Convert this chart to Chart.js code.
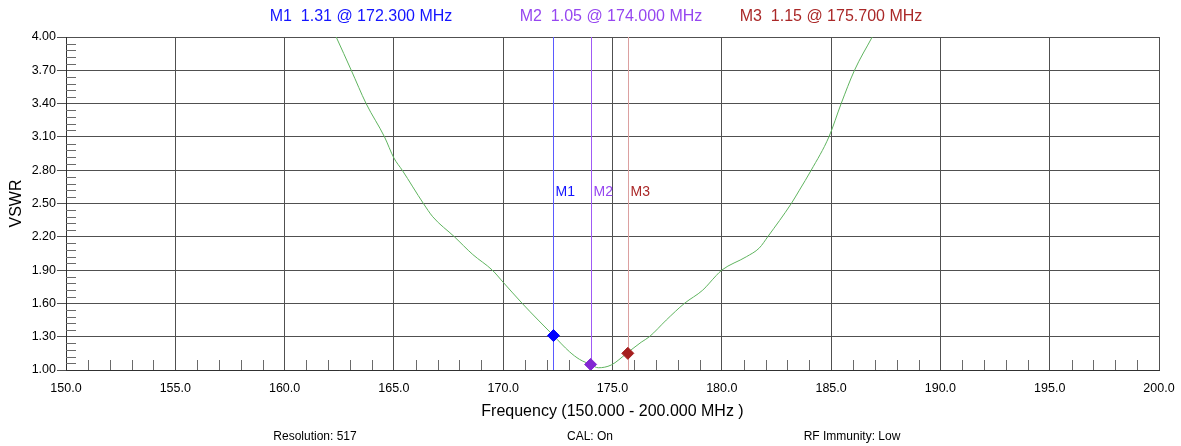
<!DOCTYPE html>
<html>
<head>
<meta charset="utf-8">
<script src="https://cdn.jsdelivr.net/npm/chart.js@4.4.0/dist/chart.umd.min.js"></script>
<style>
  html, body { margin: 0; padding: 0; background: #fff; }
  #wrap { width: 1181px; height: 446px; }
</style>
</head>
<body>
<div id="wrap"><canvas id="vswr" width="1181" height="446"></canvas></div>
<script>
// sweep (MHz, VSWR)
const freqs = [162.0, 162.36, 163.05, 163.73, 164.57, 165.0, 165.38, 166.35, 166.78, 167.77, 168.61, 169.5, 170.0,
  170.87, 171.6, 172.3, 173.03, 173.49, 174.0, 174.35, 174.94, 175.65, 176.31, 176.69, 177.46, 178.29, 179.13,
  179.74, 180.0, 181.12, 181.72, 182.1, 183.18, 183.55, 184.09, 184.9, 185.46, 186.07, 186.88, 187.2];
const vswr = [4.15, 4.0, 3.7, 3.4, 3.1, 2.91, 2.8, 2.5, 2.38, 2.2, 2.04, 1.9, 1.79,
  1.6, 1.45, 1.31, 1.165, 1.096, 1.05, 1.02, 1.045, 1.15, 1.25, 1.3, 1.45, 1.6, 1.72,
  1.85, 1.9, 2.02, 2.1, 2.2, 2.5, 2.62, 2.8, 3.1, 3.4, 3.7, 4.0, 4.12];

const markerNames = ["M1", "M2", "M3"];
const markerFreqs = [172.3, 174.0, 175.7];
const markerValues = [1.31, 1.05, 1.15];
const markerText = ["rgb(20,20,255)", "rgb(150,70,240)", "rgb(170,40,40)"];
const markerLine = ["rgb(90,90,255)", "rgb(160,90,245)", "rgb(220,160,160)"];
const markerDot = ["rgb(0,0,255)", "rgb(130,40,210)", "rgb(165,30,30)"];

const xTitle = "Frequency (150.000 - 200.000 MHz )";
const yTitle = "VSWR";
const statusLabels = ["Resolution: 517", "CAL: On", "RF Immunity: Low"];
const statusCenters = [315, 590, 852];

const FONT = "'Liberation Sans', Arial, sans-serif";

function fmt(v, d) {
  return Number(v).toFixed(d);
}

const overlay = {
  id: "overlay",
  beforeDatasetsDraw(chart) {
    const { ctx, chartArea: a, scales: { x, y } } = chart;
    ctx.save();
    ctx.lineWidth = 1;
    ctx.strokeStyle = "#6a6a6a";
    ctx.beginPath();
    for (let f = 151; f < 200; f++) {
      if (f % 5 === 0) continue;
      const px = Math.round(x.getPixelForValue(f)) + 0.5;
      ctx.moveTo(px, a.bottom);
      ctx.lineTo(px, a.bottom - 10);
    }
    for (let i = 1; i < 50; i++) {
      if (i % 5 === 0) continue;
      const py = Math.round(y.getPixelForValue(1 + i * 0.06)) + 0.5;
      ctx.moveTo(a.left, py);
      ctx.lineTo(a.left + 10, py);
    }
    ctx.stroke();

    // marker cursors
    markerFreqs.forEach((f, i) => {
      const px = Math.round(x.getPixelForValue(f)) + 0.5;
      ctx.strokeStyle = markerLine[i];
      ctx.beginPath();
      ctx.moveTo(px, a.top);
      ctx.lineTo(px, a.bottom);
      ctx.stroke();
      ctx.fillStyle = markerText[i];
      ctx.font = "14px " + FONT;
      ctx.textAlign = "left";
      ctx.textBaseline = "middle";
      ctx.fillText(markerNames[i], px + 2, y.getPixelForValue(2.6));
    });
    ctx.restore();
  },
  afterDraw(chart) {
    const { ctx, chartArea: a } = chart;
    ctx.save();
    ctx.textBaseline = "middle";
    ctx.textAlign = "center";
    ctx.font = "16px " + FONT;
    const centers = [361, 611, 831];
    markerNames.forEach((m, i) => {
      ctx.fillStyle = markerText[i];
      ctx.fillText(m + "  " + fmt(markerValues[i], 2) + " @ " + fmt(markerFreqs[i], 3) + " MHz", centers[i], 17);
    });

    ctx.fillStyle = "#000";
    ctx.fillText(xTitle, (a.left + a.right) / 2, 412);
    ctx.save();
    ctx.translate(17, (a.top + a.bottom) / 2);
    ctx.rotate(-Math.PI / 2);
    ctx.fillText(yTitle, 0, 0);
    ctx.restore();

    ctx.font = "12px " + FONT;
    statusLabels.forEach((s, i) => ctx.fillText(s, statusCenters[i], 437));
    ctx.restore();
  }
};

new Chart(document.getElementById("vswr"), {
  type: "scatter",
  data: {
    datasets: [
      {
        data: freqs.map((f, i) => ({ x: f, y: vswr[i] })),
        showLine: true,
        borderColor: "rgb(95,180,95)",
        borderWidth: 1,
        pointRadius: 0,
        cubicInterpolationMode: "monotone",
        order: 2,
      },
      {
        data: markerFreqs.map((f, i) => ({ x: f, y: markerValues[i] })),
        showLine: false,
        pointStyle: "rectRot",
        pointRadius: 6,
        pointBackgroundColor: markerDot,
        pointBorderColor: markerDot,
        order: 1,
      },
    ],
  },
  plugins: [overlay],
  options: {
    responsive: false,
    animation: false,
    devicePixelRatio: 1,
    layout: { padding: { top: 37, right: 22, left: 0, bottom: 0 } },
    plugins: { legend: { display: false }, tooltip: { enabled: false } },
    scales: {
      x: {
        type: "linear",
        min: 150,
        max: 200,
        afterFit: (s) => { s.height = 76; s.paddingRight = 0; s.paddingLeft = 0; },
        ticks: {
          stepSize: 5,
          color: "#000",
          font: { family: FONT, size: 12.5 },
          padding: 11,
          maxRotation: 0,
          callback: (v) => fmt(v, 1),
        },
        grid: { color: "#505050", lineWidth: 1, drawTicks: false },
        border: { color: "#303030" },
      },
      y: {
        min: 1,
        max: 4,
        afterFit: (s) => { s.width = 66; s.paddingTop = 0; s.paddingBottom = 0; },
        ticks: {
          stepSize: 0.3,
          color: "#000",
          font: { family: FONT, size: 12.5 },
          padding: 1,
          callback: (v) => fmt(v, 2),
        },
        grid: { color: "#505050", lineWidth: 1, tickLength: 9 },
        border: { color: "#303030" },
      },
    },
  },
});
</script>
</body>
</html>
